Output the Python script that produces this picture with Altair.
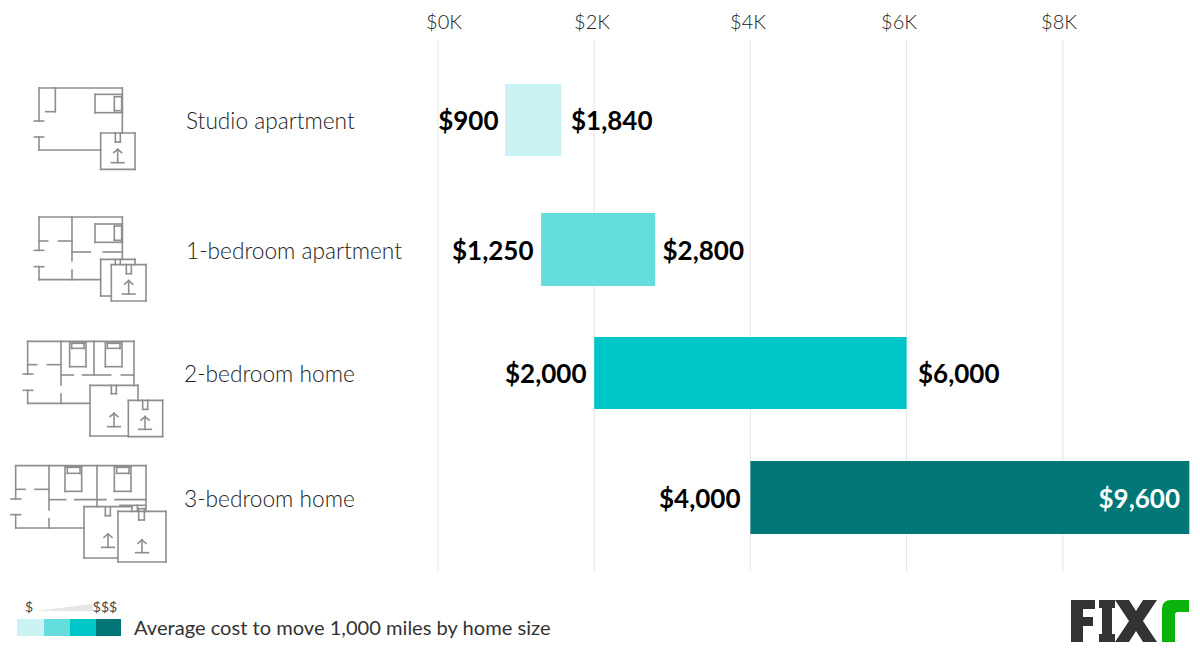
import altair as alt
import pandas as pd

# ---- chart values ----
categories = ["Studio apartment", "1-bedroom apartment", "2-bedroom home", "3-bedroom home"]
bar_start_k = [0.86, 1.32, 2.0, 4.0]
bar_end_k = [1.58, 2.78, 6.0, 9.62]
low_labels = ["$900", "$1,250", "$2,000", "$4,000"]
high_labels = ["$1,840", "$2,800", "$6,000", "$9,600"]
bar_colors = ["#ccf3f3", "#66dddd", "#00c7c7", "#007777"]
tick_values_k = [0, 2, 4, 6, 8]
tick_labels = ["$0K", "$2K", "$4K", "$6K", "$8K"]
footer_text = "Average cost to move 1,000 miles by home size"

# ---- layout (page pixels) ----
M = 8
W, H = 1184, 638
PX0, PX_PER_K = 438.0, 78.1
row_top = [84, 213, 337, 461]
row_bottom = [156, 286, 409, 534]
row_center = [120, 250, 373, 498]
cat_x = [186, 186, 184, 184]
low_end_x = [498.5, 533.5, 586.5, 740.5]
high_x = [571, 662.5, 918, 1180]
tick_label_x = [444, 592, 748, 899, 1059]

x_k = alt.Scale(domain=[(M - PX0) / PX_PER_K, (M + W - PX0) / PX_PER_K], range=[0, W], nice=False, zero=False)
PXX = alt.X("x:Q", scale=None, axis=None)
PXY = alt.Y("y:Q", scale=None, axis=None)

bars = pd.DataFrame({"cat": categories, "a": bar_start_k, "b": bar_end_k, "c": bar_colors,
                     "y": [v - M for v in row_top], "y2": [v - M for v in row_bottom]})
grid = pd.DataFrame({"k": tick_values_k, "y": [40 - M] * 5, "y2": [572 - M] * 5})

grid_layer = alt.Chart(grid).mark_rule(color="#e6e6e6", strokeWidth=1).encode(
    x=alt.X("k:Q", scale=x_k, axis=None), y=PXY, y2="y2:Q")
bar_layer = alt.Chart(bars).mark_rect().encode(
    x=alt.X("a:Q", scale=x_k, axis=None), x2="b:Q", y=PXY, y2="y2:Q",
    color=alt.Color("c:N", scale=None, legend=None))


def text_layer(rows, size, color="#000000", align="left", weight="normal", font="Lato", baseline="middle"):
    d = pd.DataFrame(rows, columns=["x", "y", "t"])
    d["x"] -= M
    d["y"] -= M
    return alt.Chart(d).mark_text(fontSize=size, color=color, align=align, fontWeight=weight,
                                  font=font, baseline=baseline).encode(x=PXX, y=PXY, text="t:N")


tick_text = text_layer(list(zip(tick_label_x, [23] * 5, tick_labels)), 20, "#222222", "center", 300)
cat_text = text_layer(list(zip(cat_x, [c + 1.5 for c in row_center], categories)), 22.7, "#222222", "left", 300)
low_text = text_layer(list(zip(low_end_x, [c + 2 for c in row_center], low_labels)), 26, "#000000", "right", "bold")
high_text = text_layer(list(zip(high_x[:3], [c + 2 for c in row_center[:3]], high_labels[:3])), 26, "#000000", "left", "bold")
high_in = text_layer([(high_x[3], row_center[3] + 2, high_labels[3])], 26, "#ffffff", "right", "bold")
footer = text_layer([(134, 629, footer_text)], 20.1, "#333333", "left", "normal")
dollars = text_layer([(29, 608, "$"), (105, 608, "$$$")], 14, "#444444", "center")

# ---- floor-plan icons: line segments (3x crop coords) ----
def box(a, b, c, d):
    return [(a, b, c, b), (c, b, c, d), (c, d, a, d), (a, d, a, b)]

def tape(a, b, top, bot, closed=False):
    s = [(a, top, a, bot), (b, top, b, bot), (a, bot, b, bot)]
    return s + ([(a, top, b, top)] if closed else [])

def arrow(cx, top, bot, hw=19):
    return [(cx, top, cx, bot), (cx - hw, bot, cx + hw, bot),
            (cx - 12, top + 10, cx, top), (cx, top, cx + 12, top + 10)]

icon1 = [(117,54,367,54),(117,54,117,153),(103,153,131,153),(103,201,131,201),(117,201,117,240),
         (117,240,302,240),(367,54,367,189),(166,54,166,125),(137,125,166,125)] \
        + box(285,73,367,128) + box(343,80,365,122) + box(302,189,405,298) \
        + tape(346,361,189,216) + arrow(353,238,278)
icon2 = [(117,441,367,441),(117,441,117,541),(103,541,131,541),(103,590,131,590),(117,590,117,629),
         (117,629,302,629),(216,441,216,573),(216,600,216,629),(367,441,367,568),(117,513,143,513),
         (175,513,216,513),(216,546,271,546),(310,546,367,546)] \
        + box(285,462,367,517) + box(343,468,365,511) \
        + [(302,568,405,568),(302,568,302,678),(302,678,334,678),(405,568,405,584),
           (346,568,346,584),(361,568,361,584)] \
        + box(334,584,438,693) + tape(379,394,584,611) + arrow(386,632,672)
icon3 = [(83,34,402,34),(83,34,83,132),(70,132,98,132),(70,181,98,181),(83,181,83,220),(83,220,270,220),
         (183,34,183,165),(183,192,183,220),(282,34,282,135),(402,34,402,166),(83,104,110,104),
         (142,104,183,104),(183,135,220,135),(248,135,332,135),(364,135,402,135)] \
        + box(209,36,258,110) + box(215,40,252,55) + box(316,36,366,110) + box(322,40,360,55) \
        + [(270,166,414,166),(270,166,270,318),(270,318,385,318),(414,166,414,211)] \
        + tape(334,349,166,191) + arrow(342,250,290) + box(385,211,488,320) \
        + tape(428,443,211,238) + arrow(435,260,298)
icon4 = [(47,407,438,407),(47,407,47,507),(33,507,62,507),(33,554,62,554),(47,554,47,594),(47,594,252,594),
         (147,407,147,540),(147,566,147,594),(291,407,291,530),(438,407,438,544),(47,478,75,478),
         (105,478,147,478),(147,509,197,509),(224,509,318,509),(345,509,438,509)] \
        + box(195,410,245,484) + box(202,412,240,430) + box(343,410,393,484) + box(350,412,387,430) \
        + [(252,530,396,530),(252,530,252,684),(252,684,354,684),(396,530,396,544),(360,526,436,526),
           (412,526,412,544)] \
        + tape(316,331,530,557) + arrow(324,612,652) + box(354,544,498,696) \
        + tape(416,433,536,570,True) + arrow(426,630,668)

segs = []
for s in icon1 + icon2:
    segs.append((s[0]/3, s[1]/3 + 70, s[2]/3, s[3]/3 + 70))
for s in icon3 + icon4:
    segs.append((s[0]/3, s[1]/3 + 330, s[2]/3, s[3]/3 + 330))
seg_df = pd.DataFrame(segs, columns=["x", "y", "x2", "y2"]) - M
icons = alt.Chart(seg_df).mark_rule(color="#8e8e8e", strokeWidth=1.6, strokeCap="square").encode(
    x=PXX, y=PXY, x2="x2:Q", y2="y2:Q")

# ---- footer legend ----
sw = pd.DataFrame({"x": [17, 44, 70, 96], "x2": [44, 70, 96, 121], "y": [619] * 4, "y2": [636] * 4, "c": bar_colors})
for col in ["x", "x2", "y", "y2"]:
    sw[col] -= M
swatches = alt.Chart(sw).mark_rect().encode(x=PXX, x2="x2:Q", y=PXY, y2="y2:Q",
                                            color=alt.Color("c:N", scale=None, legend=None))


# ---- shapes drawn with symbol paths (wedge and logo) ----
def poly_layer(path_cmds, cx, cy, half, color):
    def n(px, py):
        return f"{(px - cx) / half:.4f},{(py - cy) / half:.4f}"
    out = []
    for cmd, *pts in path_cmds:
        if cmd == "Z":
            out.append("Z")
        else:
            out.append(cmd + " ".join(n(*p) for p in pts))
    d = pd.DataFrame({"x": [cx - M], "y": [cy - M]})
    return alt.Chart(d).mark_point(shape=" ".join(out), size=(2 * half) ** 2, filled=True, fill=color,
                                   opacity=1).encode(x=PXX, y=PXY)


def P(*pts):
    return [("M", pts[0])] + [("L", p) for p in pts[1:]] + [("Z",)]


wedge = poly_layer(P((35, 611), (93, 604), (93, 611)), 64, 607.5, 30, "#e6e6e6")
fix_paths = (
    P((1071, 600), (1095, 600), (1095, 609), (1083, 609), (1083, 617), (1093, 617), (1093, 626), (1083, 626), (1083, 642), (1071, 642))
    + P((1099, 600), (1115, 600), (1115, 608), (1112, 608), (1112, 634), (1115, 634), (1115, 642), (1099, 642), (1099, 634), (1102, 634), (1102, 608), (1099, 608))
    + P((1115, 600), (1129, 600), (1136, 611), (1143, 600), (1157, 600), (1143, 621), (1157, 642), (1143, 642), (1136, 631), (1129, 642), (1115, 642), (1129, 621))
)
fix = poly_layer(fix_paths, 1129, 621, 60, "#333333")
r_path = [("M", (1162, 642)), ("L", (1162, 609)), ("Q", (1162, 600), (1171, 600)), ("L", (1189, 600)),
          ("L", (1189, 612)), ("L", (1178, 612)), ("Q", (1175, 612), (1175, 615)), ("L", (1175, 642)), ("Z",)]
rlogo = poly_layer(r_path, 1175.5, 621, 22, "#0bb20b")

chart = alt.layer(
    grid_layer, bar_layer, tick_text, cat_text, low_text, high_text, high_in, icons,
    swatches, wedge, dollars, footer, fix, rlogo,
).properties(width=W, height=H, padding=0,
             autosize=alt.AutoSizeParams(type="fit", contains="padding"),
             background="#ffffff").configure_view(stroke=None)

chart.save("out.html", embed_options={"renderer": "svg", "actions": False})
